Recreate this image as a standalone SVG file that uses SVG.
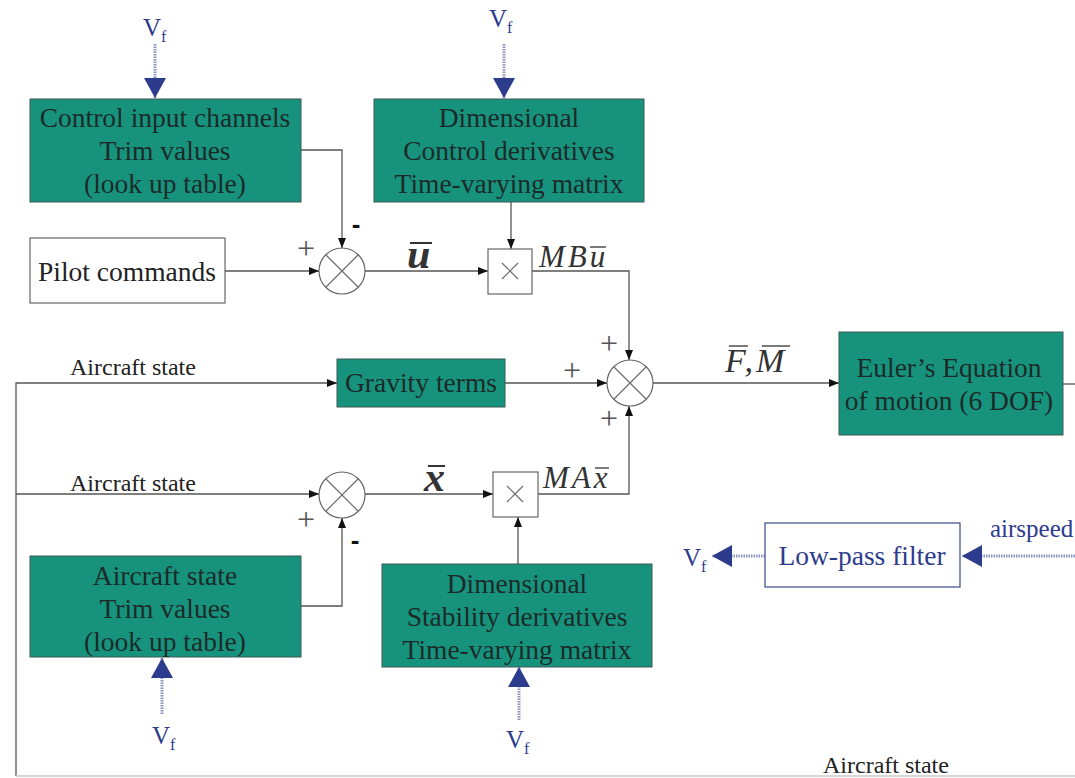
<svg xmlns="http://www.w3.org/2000/svg" width="1075" height="778" viewBox="0 0 1075 778">
<style>
.blk{fill:#17937d;stroke:#3c5a55;stroke-width:1}
.wbox{fill:#fff;stroke:#666;stroke-width:1.2}
.bbox{fill:#fff;stroke:#3a4a8e;stroke-width:1.2}
.t{font-family:"Liberation Serif","Times New Roman",serif;font-size:27.5px;fill:#1c2b29;text-anchor:middle}
.lbl{font-family:"Liberation Serif","Times New Roman",serif;font-size:24px;fill:#222}
.blue{font-family:"Liberation Serif","Times New Roman",serif;fill:#2d3b8c}
.math{font-family:"Liberation Serif","Times New Roman",serif;font-style:italic;fill:#333}
.sign{font-family:"Liberation Serif","Times New Roman",serif;font-size:32px;fill:#555;text-anchor:middle}
.minus{font-family:"Liberation Sans",Arial,sans-serif;font-size:26px;font-weight:bold;fill:#111;text-anchor:middle}
.ln{fill:none;stroke:#555;stroke-width:1.3}
.sum{fill:#fff;stroke:#666;stroke-width:1.2}
.x{stroke:#666;stroke-width:1.1}
.dot{stroke:#8c96c0;stroke-width:3;stroke-dasharray:1.5 1}
.bar{stroke:#333;stroke-width:2}
.sbar{stroke:#333;stroke-width:1.3}
</style>
<defs>
<marker id="ah" viewBox="0 0 10 10" refX="10" refY="5" markerWidth="10" markerHeight="10" markerUnits="userSpaceOnUse" orient="auto">
<path d="M0,1 L10,5 L0,9 z" fill="#111"/>
</marker>
<marker id="bh" viewBox="0 0 20 22" refX="20" refY="11" markerWidth="20" markerHeight="22" markerUnits="userSpaceOnUse" orient="auto">
<path d="M0,0 L20,11 L0,22 z" fill="#2d3b8c"/>
</marker>
</defs>

<g id="connectors">
<path class="ln" d="M301,150 H342 V248" marker-end="url(#ah)"/>
<path class="ln" d="M225,271 H319" marker-end="url(#ah)"/>
<path class="ln" d="M365,271 H488" marker-end="url(#ah)"/>
<path class="ln" d="M511,202 V249" marker-end="url(#ah)"/>
<path class="ln" d="M532,271 H629 V360" marker-end="url(#ah)"/>
<path class="ln" d="M16,776 V383 H337" marker-end="url(#ah)"/>
<path class="ln" d="M16,494 H319" marker-end="url(#ah)"/>
<path class="ln" d="M505,383 H607" marker-end="url(#ah)"/>
<path class="ln" d="M653,383 H839" marker-end="url(#ah)"/>
<path class="ln" d="M365,494 H493" marker-end="url(#ah)"/>
<path class="ln" d="M538,494 H629 V406" marker-end="url(#ah)"/>
<path class="ln" d="M518,564 V517" marker-end="url(#ah)"/>
<path class="ln" d="M301,606 H342 V518" marker-end="url(#ah)"/>
<path class="ln" d="M1063,384 H1075"/>
<path d="M16,776 H1075" fill="none" stroke="#c8c8c8" stroke-width="1.5"/>
<line class="dot" x1="155" y1="44" x2="155" y2="98" marker-end="url(#bh)"/>
<line class="dot" x1="504" y1="44" x2="504" y2="98" marker-end="url(#bh)"/>
<line class="dot" x1="162" y1="714" x2="162" y2="658" marker-end="url(#bh)"/>
<line class="dot" x1="519" y1="720" x2="519" y2="667" marker-end="url(#bh)"/>
<line class="dot" x1="765" y1="556" x2="712" y2="556" marker-end="url(#bh)"/>
<line class="dot" x1="1075" y1="556" x2="962" y2="556" marker-end="url(#bh)"/>
</g>

<g id="control-trim">
<rect class="blk" x="30" y="99" width="271" height="103"/>
<text class="t" x="165" y="127">Control input channels</text>
<text class="t" x="165" y="160">Trim values</text>
<text class="t" x="165" y="193">(look up table)</text>
</g>

<g id="control-deriv">
<rect class="blk" x="374" y="99" width="270" height="103"/>
<text class="t" x="509" y="127">Dimensional</text>
<text class="t" x="509" y="160">Control derivatives</text>
<text class="t" x="509" y="193">Time-varying matrix</text>
</g>

<g id="pilot">
<rect class="wbox" x="30" y="238" width="195" height="65"/>
<text class="t" x="127" y="281" style="fill:#222">Pilot commands</text>
</g>

<g id="sum1">
<circle class="sum" cx="342" cy="271" r="23"/>
<line class="x" x1="326" y1="255" x2="358" y2="287"/>
<line class="x" x1="358" y1="255" x2="326" y2="287"/>
<text class="sign" x="306" y="259">+</text>
<text class="minus" x="356" y="233">-</text>
</g>

<g id="mult1">
<rect class="wbox" x="488" y="249" width="44" height="45"/>
<line class="x" x1="502" y1="263" x2="518" y2="279"/>
<line class="x" x1="518" y1="263" x2="502" y2="279"/>
</g>

<g id="gravity">
<rect class="blk" x="337" y="359" width="168" height="48"/>
<text class="t" x="421" y="392">Gravity terms</text>
</g>

<g id="sum2">
<circle class="sum" cx="630" cy="383" r="23"/>
<line class="x" x1="614" y1="367" x2="646" y2="399"/>
<line class="x" x1="646" y1="367" x2="614" y2="399"/>
<text class="sign" x="609" y="354">+</text>
<text class="sign" x="572" y="381">+</text>
<text class="sign" x="609" y="429">+</text>
</g>

<g id="euler">
<rect class="blk" x="839" y="332" width="224" height="103"/>
<text class="t" x="949" y="377">Euler’s Equation</text>
<text class="t" x="949" y="410">of motion (6 DOF)</text>
</g>

<g id="sum3">
<circle class="sum" cx="342" cy="495" r="23"/>
<line class="x" x1="326" y1="479" x2="358" y2="511"/>
<line class="x" x1="358" y1="479" x2="326" y2="511"/>
<text class="sign" x="306" y="530">+</text>
<text class="minus" x="355" y="549">-</text>
</g>

<g id="mult2">
<rect class="wbox" x="493" y="472" width="45" height="45"/>
<line class="x" x1="507" y1="486" x2="523" y2="502"/>
<line class="x" x1="523" y1="486" x2="507" y2="502"/>
</g>

<g id="state-trim">
<rect class="blk" x="30" y="556" width="271" height="101"/>
<text class="t" x="165" y="585">Aircraft state</text>
<text class="t" x="165" y="618">Trim values</text>
<text class="t" x="165" y="651">(look up table)</text>
</g>

<g id="stability">
<rect class="blk" x="382" y="564" width="270" height="103"/>
<text class="t" x="517" y="593">Dimensional</text>
<text class="t" x="517" y="626">Stability derivatives</text>
<text class="t" x="517" y="659">Time-varying matrix</text>
</g>

<g id="lowpass">
<rect class="bbox" x="765" y="523" width="195" height="64"/>
<text class="blue" x="862" y="565" font-size="27.5" text-anchor="middle">Low-pass filter</text>
</g>

<g id="labels">
<text class="lbl" x="70" y="375">Aircraft state</text>
<text class="lbl" x="70" y="491">Aircraft state</text>
<text class="lbl" x="823" y="773">Aircraft state</text>
<text class="blue" x="990" y="537" font-size="25">airspeed</text>
<text class="blue" x="143" y="36" font-size="25">V<tspan font-size="16" dy="6">f</tspan></text>
<text class="blue" x="489" y="27" font-size="25">V<tspan font-size="16" dy="6">f</tspan></text>
<text class="blue" x="152" y="744" font-size="25">V<tspan font-size="16" dy="6">f</tspan></text>
<text class="blue" x="506" y="748" font-size="25">V<tspan font-size="16" dy="6">f</tspan></text>
<text class="blue" x="683" y="566" font-size="25">V<tspan font-size="16" dy="6">f</tspan></text>
<text class="math" x="407" y="268" font-size="42" font-weight="bold">u</text>
<line class="bar" x1="410" y1="243" x2="432" y2="243"/>
<text class="math" x="539" y="267" font-size="31" letter-spacing="3">MBu</text>
<line class="sbar" x1="590" y1="247" x2="606" y2="247"/>
<text class="math" x="543" y="488" font-size="31" letter-spacing="3">MAx</text>
<line class="sbar" x1="595" y1="468" x2="609" y2="468"/>
<text class="math" x="725" y="372" font-size="34" letter-spacing="3">F,M</text>
<line class="sbar" x1="729" y1="346" x2="748" y2="346"/>
<line class="sbar" x1="762" y1="346" x2="790" y2="346"/>
<text class="math" x="424" y="491" font-size="42" font-weight="bold">x</text>
<line class="bar" x1="428" y1="466" x2="445" y2="466"/>
</g>
</svg>
